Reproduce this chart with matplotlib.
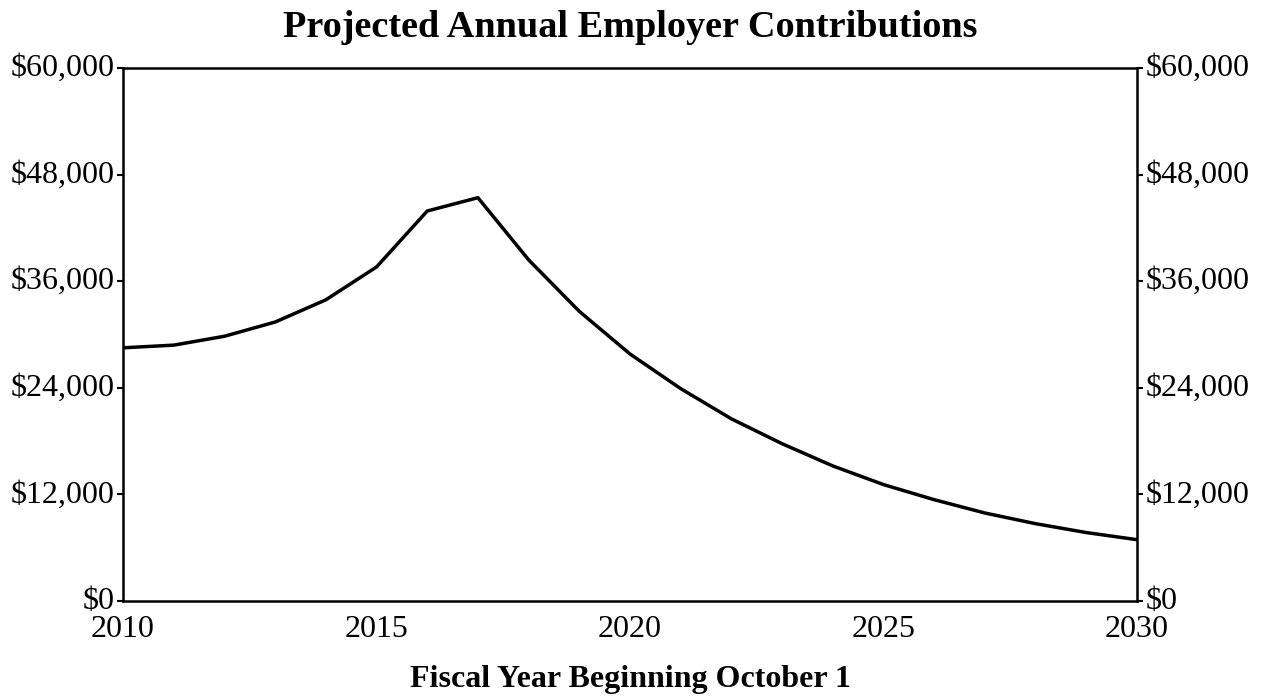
import matplotlib.pyplot as plt
import matplotlib.ticker as mticker
from matplotlib.transforms import ScaledTranslation

plt.rcParams['font.family'] = ['Liberation Serif', 'DejaVu Serif']

years = list(range(2010, 2031))
contributions = [28.5, 28.8, 29.8, 31.4, 33.9, 37.6, 43.9, 45.4, 38.4, 32.6,
                 27.8, 23.9, 20.5, 17.7, 15.2, 13.1, 11.4, 9.9, 8.7, 7.7, 6.9]
contributions = [v * 1000 for v in contributions]
y_ticks = [0, 12000, 24000, 36000, 48000, 60000]
x_ticks = [2010, 2015, 2020, 2025, 2030]

fig, ax = plt.subplots(figsize=(12.63, 6.98), dpi=100)
fig.subplots_adjust(left=0.0974, right=0.9003, top=0.9026, bottom=0.139)

ax.plot(years, contributions, color='black', linewidth=2.5)

ax.set_xlim(2010, 2030)
ax.set_ylim(0, 60000)
ax.set_xticks(x_ticks)
ax.set_yticks(y_ticks)
fmt = mticker.FuncFormatter(lambda v, p: f'${v:,.0f}')
ax.yaxis.set_major_formatter(fmt)
ax.tick_params(axis='y', which='both', direction='out', length=4, width=1.5,
               labelsize=23, pad=2, left=True, right=True,
               labelleft=True, labelright=True)
ax.tick_params(axis='x', length=0, labelsize=23, pad=10)

# nudge the y labels up a little, like the original
shift = ScaledTranslation(0, 3 / 100, fig.dpi_scale_trans)
for tick in ax.yaxis.get_major_ticks():
    tick.label1.set_transform(tick.label1.get_transform() + shift)
    tick.label2.set_transform(tick.label2.get_transform() + shift)

for s in ax.spines.values():
    s.set_linewidth(1.8)

ax.set_title('Projected Annual Employer Contributions', fontsize=27.5,
             fontweight='bold', pad=22)
ax.set_xlabel('Fiscal Year Beginning October 1', fontsize=23,
              fontweight='bold', labelpad=15)

plt.savefig('out.png', dpi=100)
plt.close()
